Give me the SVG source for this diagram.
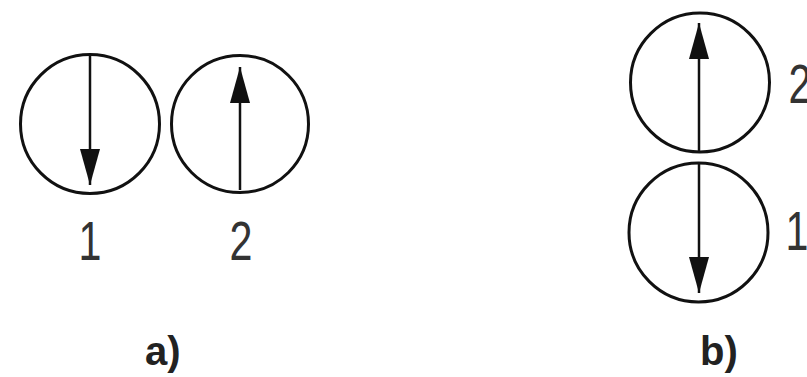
<svg xmlns="http://www.w3.org/2000/svg" width="807" height="377" viewBox="0 0 807 377">
<style>
.c{fill:none;stroke:#111;stroke-width:3}
.a{stroke:#111;stroke-width:2.5;fill:none;marker-end:url(#ah)}
.n{font-family:"Liberation Sans",Arial,sans-serif;font-size:55px;fill:#333;text-anchor:middle}
.l{font-family:"Liberation Sans",Arial,sans-serif;font-size:40px;font-weight:bold;fill:#222}
</style>
<defs>
<marker id="ah" markerUnits="userSpaceOnUse" markerWidth="36" markerHeight="20" refX="36" refY="10" orient="auto" viewBox="0 0 36 20">
<path d="M0,0 L36,10 L0,20 z" fill="#111"/>
</marker>
</defs>
<rect width="807" height="377" fill="#fff"/>
<g id="a1">
<circle class="c" cx="90" cy="124" r="69.5"/>
<text class="n" transform="translate(90,260) scale(0.75,1)">1</text>
</g>
<g id="a2">
<circle class="c" cx="240" cy="124" r="68.5"/>
<text class="n" transform="translate(241,260) scale(0.75,1)">2</text>
</g>
<g id="b2">
<circle class="c" cx="700" cy="82.5" r="69.5"/>
<text class="n" transform="translate(800,103) scale(0.75,1)">2</text>
</g>
<g id="b1">
<circle class="c" cx="698.5" cy="232.5" r="69.5"/>
<text class="n" transform="translate(797,250) scale(0.75,1)">1</text>
</g>
<g id="connectors">
<line class="a" x1="90" y1="56" x2="90" y2="185"/>
<line class="a" x1="240" y1="190" x2="240" y2="67"/>
<line class="a" x1="699" y1="152" x2="699" y2="23"/>
<line class="a" x1="699" y1="163" x2="699" y2="293"/>
</g>
<text class="l" x="145" y="365">a)</text>
<text class="l" x="700" y="365">b)</text>
</svg>
